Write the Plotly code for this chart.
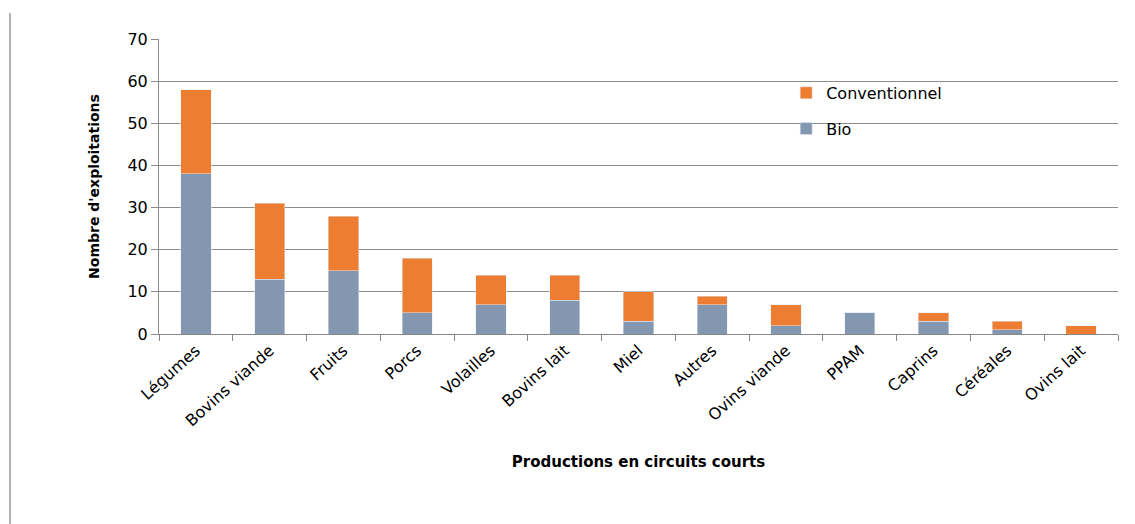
import plotly.graph_objects as go

categories = ["Légumes", "Bovins viande", "Fruits", "Porcs", "Volailles", "Bovins lait",
              "Miel", "Autres", "Ovins viande", "PPAM", "Caprins", "Céréales", "Ovins lait"]
bio = [38, 13, 15, 5, 7, 8, 3, 7, 2, 5, 3, 1, 0]
conventionnel = [20, 18, 13, 13, 7, 6, 7, 2, 5, 0, 2, 2, 2]
y_ticks = [0, 10, 20, 30, 40, 50, 60, 70]

fig = go.Figure()
fig.add_trace(go.Bar(x=categories, y=bio, name="Bio", marker_color="#8497B0",
                     legendgroup="b", legendrank=2))
fig.add_trace(go.Bar(x=categories, y=conventionnel, name="Conventionnel", marker_color="#ED7D31",
                     legendgroup="c", legendrank=1))

fig.update_layout(
    width=1127, height=516,
    barmode="stack", bargap=0.59,
    plot_bgcolor="white", paper_bgcolor="white",
    margin=dict(l=151, r=17, t=31, b=190, autoexpand=False),
    font=dict(family="DejaVu Sans", color="#000"),
    showlegend=True,
    legend=dict(x=0.654, y=0.875, xanchor="left", yanchor="top",
                bgcolor="rgba(0,0,0,0)", font=dict(size=16, family="DejaVu Sans"),
                tracegroupgap=12, traceorder="grouped"),
    xaxis=dict(type="category", tickangle=-42, tickfont=dict(size=16, family="DejaVu Sans"),
               ticks="outside", tickson="boundaries", ticklen=6, tickcolor="#888",
               showline=True, linecolor="#888", linewidth=1,
               title=dict(text="<b>Productions en circuits courts</b>", font=dict(size=15, family="DejaVu Sans"),
                          standoff=27)),
    yaxis=dict(range=[0, 70], tickvals=y_ticks, tickfont=dict(size=16),
               showgrid=True, gridcolor="#8c8c8c", gridwidth=1,
               ticks="outside", ticklen=7, tickcolor="#8c8c8c",
               showline=True, linecolor="#8c8c8c", zeroline=False,
               title=dict(text="<b>Nombre d'exploitations</b>", font=dict(size=14, family="DejaVu Sans"),
                          standoff=24)),
)

fig.add_shape(type="line", xref="paper", yref="paper", x0=-0.1554, x1=-0.1554, y0=-0.7, y1=1.088,
              line=dict(color="#999", width=1.5))

fig.write_html("out.html")
